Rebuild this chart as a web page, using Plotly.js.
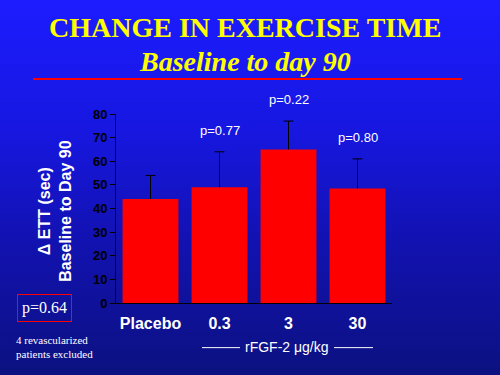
<!DOCTYPE html>
<html>
<head>
<meta charset="utf-8">
<script src="https://cdn.plot.ly/plotly-3.0.1.min.js"></script>
<style>
  html, body { margin:0; padding:0; width:500px; height:375px; overflow:hidden;
    background: linear-gradient(to bottom, #1c1cff 0%, #1717e0 35%, #1212b0 65%, #0c1180 100%); }
  #chart { width:500px; height:375px; }
</style>
</head>
<body>
<div id="chart"></div>
<script>
const categories = ["Placebo", "0.3", "3", "30"];
const changeSec = [44, 49, 65, 48.5];
const errorPlus = [10, 15, 12, 12.5];
const pLabels = ["", "p=0.77", "p=0.22", "p=0.80"];
const yTicks = [0, 10, 20, 30, 40, 50, 60, 70, 80];

const L = 116, R = 392, T = 114, B = 303.3;
const W = 500, H = 375;
const px = x => (x - L) / (R - L);
const py = y => (B - y) / (B - T);

const sans = "Liberation Sans, Arial, sans-serif";
const serif = "Liberation Serif, Times New Roman, serif";
const idx = categories.map((c, i) => i);

// bars with upper error stems (no caps)
const traceBars = {
  type: "bar",
  x: idx,
  y: changeSec,
  marker: { color: "#ff0000", line: { width: 0 } },
  error_y: { type: "data", symmetric: false, array: errorPlus,
             arrayminus: changeSec.map(() => 0), color: "#000000", thickness: 1, width: 0 },
  hoverinfo: "none"
};
// caps at the top of the error bars
const traceCaps = {
  type: "scatter",
  mode: "markers",
  x: idx,
  y: changeSec.map((v, i) => v + errorPlus[i]),
  marker: { symbol: "line-ew-open", size: 7, color: "#000000", line: { color: "#000000", width: 1 } },
  hoverinfo: "none"
};

const annotations = [];
idx.forEach(i => {
  if (pLabels[i]) {
    annotations.push({ x: i, y: changeSec[i] + errorPlus[i], xref: "x", yref: "y",
      text: pLabels[i], showarrow: false, yanchor: "bottom", yshift: 12,
      font: { family: sans, size: 13, color: "#ffffff" } });
  }
});
annotations.push(
  { x: px(245), y: py(27), xref: "paper", yref: "paper", showarrow: false,
    text: "<b>CHANGE IN EXERCISE TIME</b>", xanchor: "center", yanchor: "middle",
    font: { family: serif, size: 28, color: "#ffff00" } },
  { x: px(245), y: py(61), xref: "paper", yref: "paper", showarrow: false,
    text: "<b><i>Baseline to day 90</i></b>", xanchor: "center", yanchor: "middle",
    font: { family: serif, size: 28, color: "#ffff00" } },
  { x: px(55), y: py(211), xref: "paper", yref: "paper", showarrow: false,
    text: "<b>\u0394 ETT (sec)<br>Baseline to Day 90</b>", textangle: -90,
    xanchor: "center", yanchor: "middle",
    font: { family: sans, size: 16, color: "#ffffff" } },
  { x: px(44), y: py(308), xref: "paper", yref: "paper", showarrow: false,
    text: "p=0.64", xanchor: "center", yanchor: "middle",
    bordercolor: "#ff0000", borderwidth: 1, borderpad: 4,
    font: { family: serif, size: 16, color: "#ffffff" } },
  { x: px(14), y: py(347), xref: "paper", yref: "paper", showarrow: false,
    text: "4 revascularized<br>patients excluded", xanchor: "left", yanchor: "middle", align: "left",
    font: { family: serif, size: 11, color: "#ffffff" } },
  { x: px(287), y: py(347), xref: "paper", yref: "paper", showarrow: false,
    text: "rFGF-2 \u03bcg/kg", xanchor: "center", yanchor: "middle",
    font: { family: sans, size: 14, color: "#ffffff" } }
);

const shapes = [
  { type: "line", xref: "paper", yref: "paper", x0: px(33), x1: px(462), y0: py(79), y1: py(79),
    line: { color: "#ff0000", width: 2 } },
  { type: "line", xref: "paper", yref: "paper", x0: px(202), x1: px(240), y0: py(348), y1: py(348),
    line: { color: "#ffffff", width: 1 } },
  { type: "line", xref: "paper", yref: "paper", x0: px(334), x1: px(373), y0: py(348), y1: py(348),
    line: { color: "#ffffff", width: 1 } }
];

const layout = {
  width: W, height: H,
  margin: { l: L, r: W - R, t: T, b: H - B },
  paper_bgcolor: "rgba(0,0,0,0)",
  plot_bgcolor: "rgba(0,0,0,0)",
  showlegend: false,
  bargap: 0.19,
  xaxis: { range: [-0.5, 3.5], tickvals: idx, ticktext: categories.map(c => "<b>" + c + "</b>"),
    tickangle: 0, showline: true, linecolor: "#000000", linewidth: 1,
    ticks: "", showgrid: false, zeroline: false, ticklabelstandoff: 6,
    tickfont: { family: sans, size: 16, color: "#ffffff" } },
  yaxis: { range: [0, 80], tickvals: yTicks, ticktext: yTicks.map(v => "<b>" + v + "</b>"),
    showline: true, linecolor: "#000000", linewidth: 1,
    ticks: "outside", ticklen: 5, tickcolor: "#000000", showgrid: false, zeroline: false,
    tickfont: { family: sans, size: 13, color: "#000000" } },
  annotations: annotations,
  shapes: shapes
};

Plotly.newPlot("chart", [traceBars, traceCaps], layout, { displayModeBar: false, staticPlot: true });
</script>
</body>
</html>
